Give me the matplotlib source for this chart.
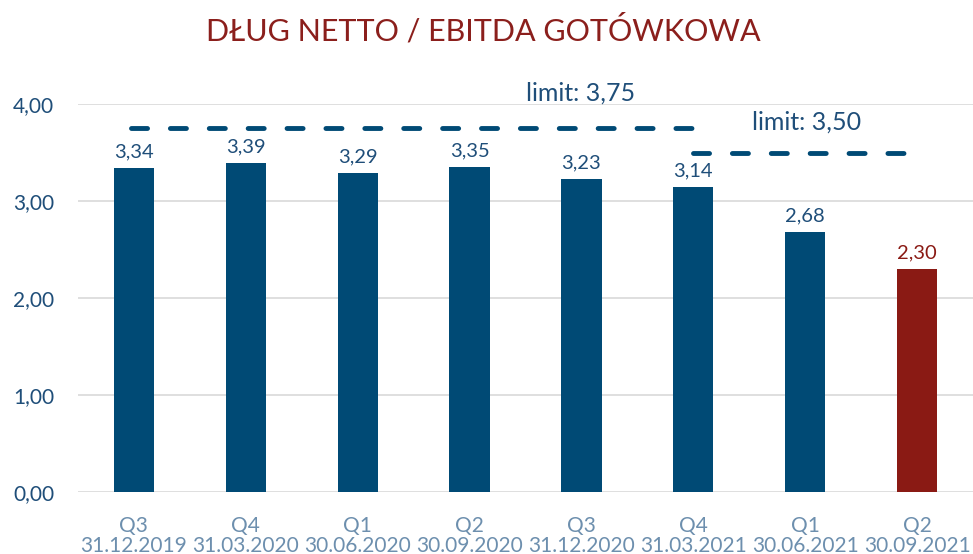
import matplotlib.pyplot as plt
import numpy as np

plt.rcParams['font.family'] = ['Lato', 'DejaVu Sans']

quarters = ['Q3', 'Q4', 'Q1', 'Q2', 'Q3', 'Q4', 'Q1', 'Q2']
dates = ['31.12.2019', '31.03.2020', '30.06.2020', '30.09.2020',
         '31.12.2020', '31.03.2021', '30.06.2021', '30.09.2021']
values = [3.34, 3.39, 3.29, 3.35, 3.23, 3.14, 2.68, 2.30]
limit_1 = 3.75
limit_2 = 3.50

blue = '#004a75'
red = '#8a1a14'
label_blue = '#1f4e79'
tick_grey = '#6d8fae'

fig = plt.figure(figsize=(9.73, 5.54), dpi=100)
ax = fig.add_axes([78 / 973, 1 - 492 / 554, 1 - 78 / 973, (492 - 104) / 554])

x = np.arange(len(values))
colors = [blue] * (len(values) - 1) + [red]
ax.bar(x, values, width=0.36, color=colors, zorder=3)

for xi, v, c in zip(x, values, colors):
    ax.text(xi, v + 0.08, f'{v:.2f}'.replace('.', ','), ha='center', va='bottom',
            fontsize=14.5, color=label_blue if c == blue else red)

# limit lines
ax.plot([-0.03, 5.0], [limit_1, limit_1], color=blue, lw=3.5,
        ls=(0, (3.3, 4.7)), dash_capstyle='round', zorder=4)
ax.plot([5.0, 6.92], [limit_2, limit_2], color=blue, lw=3.5,
        ls=(0, (3.3, 4.7)), dash_capstyle='round', zorder=4)
ax.text(3.99, 3.99, 'limit: 3,75', ha='center', va='bottom',
        fontsize=18, color=label_blue)
ax.text(6.01, 3.69, 'limit: 3,50', ha='center', va='bottom',
        fontsize=18, color=label_blue)

ax.set_xlim(-0.5, len(values) - 0.5)
ax.set_ylim(0, 4)
ax.set_yticks([0, 1, 2, 3, 4])
ax.set_yticklabels(['0,00', '1,00', '2,00', '3,00', '4,00'], fontsize=15,
                   color=label_blue)
ax.set_xticks(x)
ax.set_xticklabels([f'{q}\n{d}' for q, d in zip(quarters, dates)],
                   fontsize=15, color=tick_grey, linespacing=1.0)
ax.tick_params(length=0)
ax.tick_params(axis='x', pad=17)
ax.tick_params(axis='y', pad=17)
ax.grid(axis='y', color='#d9d9d9', lw=1.2, zorder=0)
for s in ax.spines.values():
    s.set_visible(False)

fig.text(483 / 973, 1 - 30 / 554, 'DŁUG NETTO / EBITDA GOTÓWKOWA', ha='center',
         va='center', fontsize=22, color='#8b1f1c')

fig.savefig('out.png', dpi=100)
